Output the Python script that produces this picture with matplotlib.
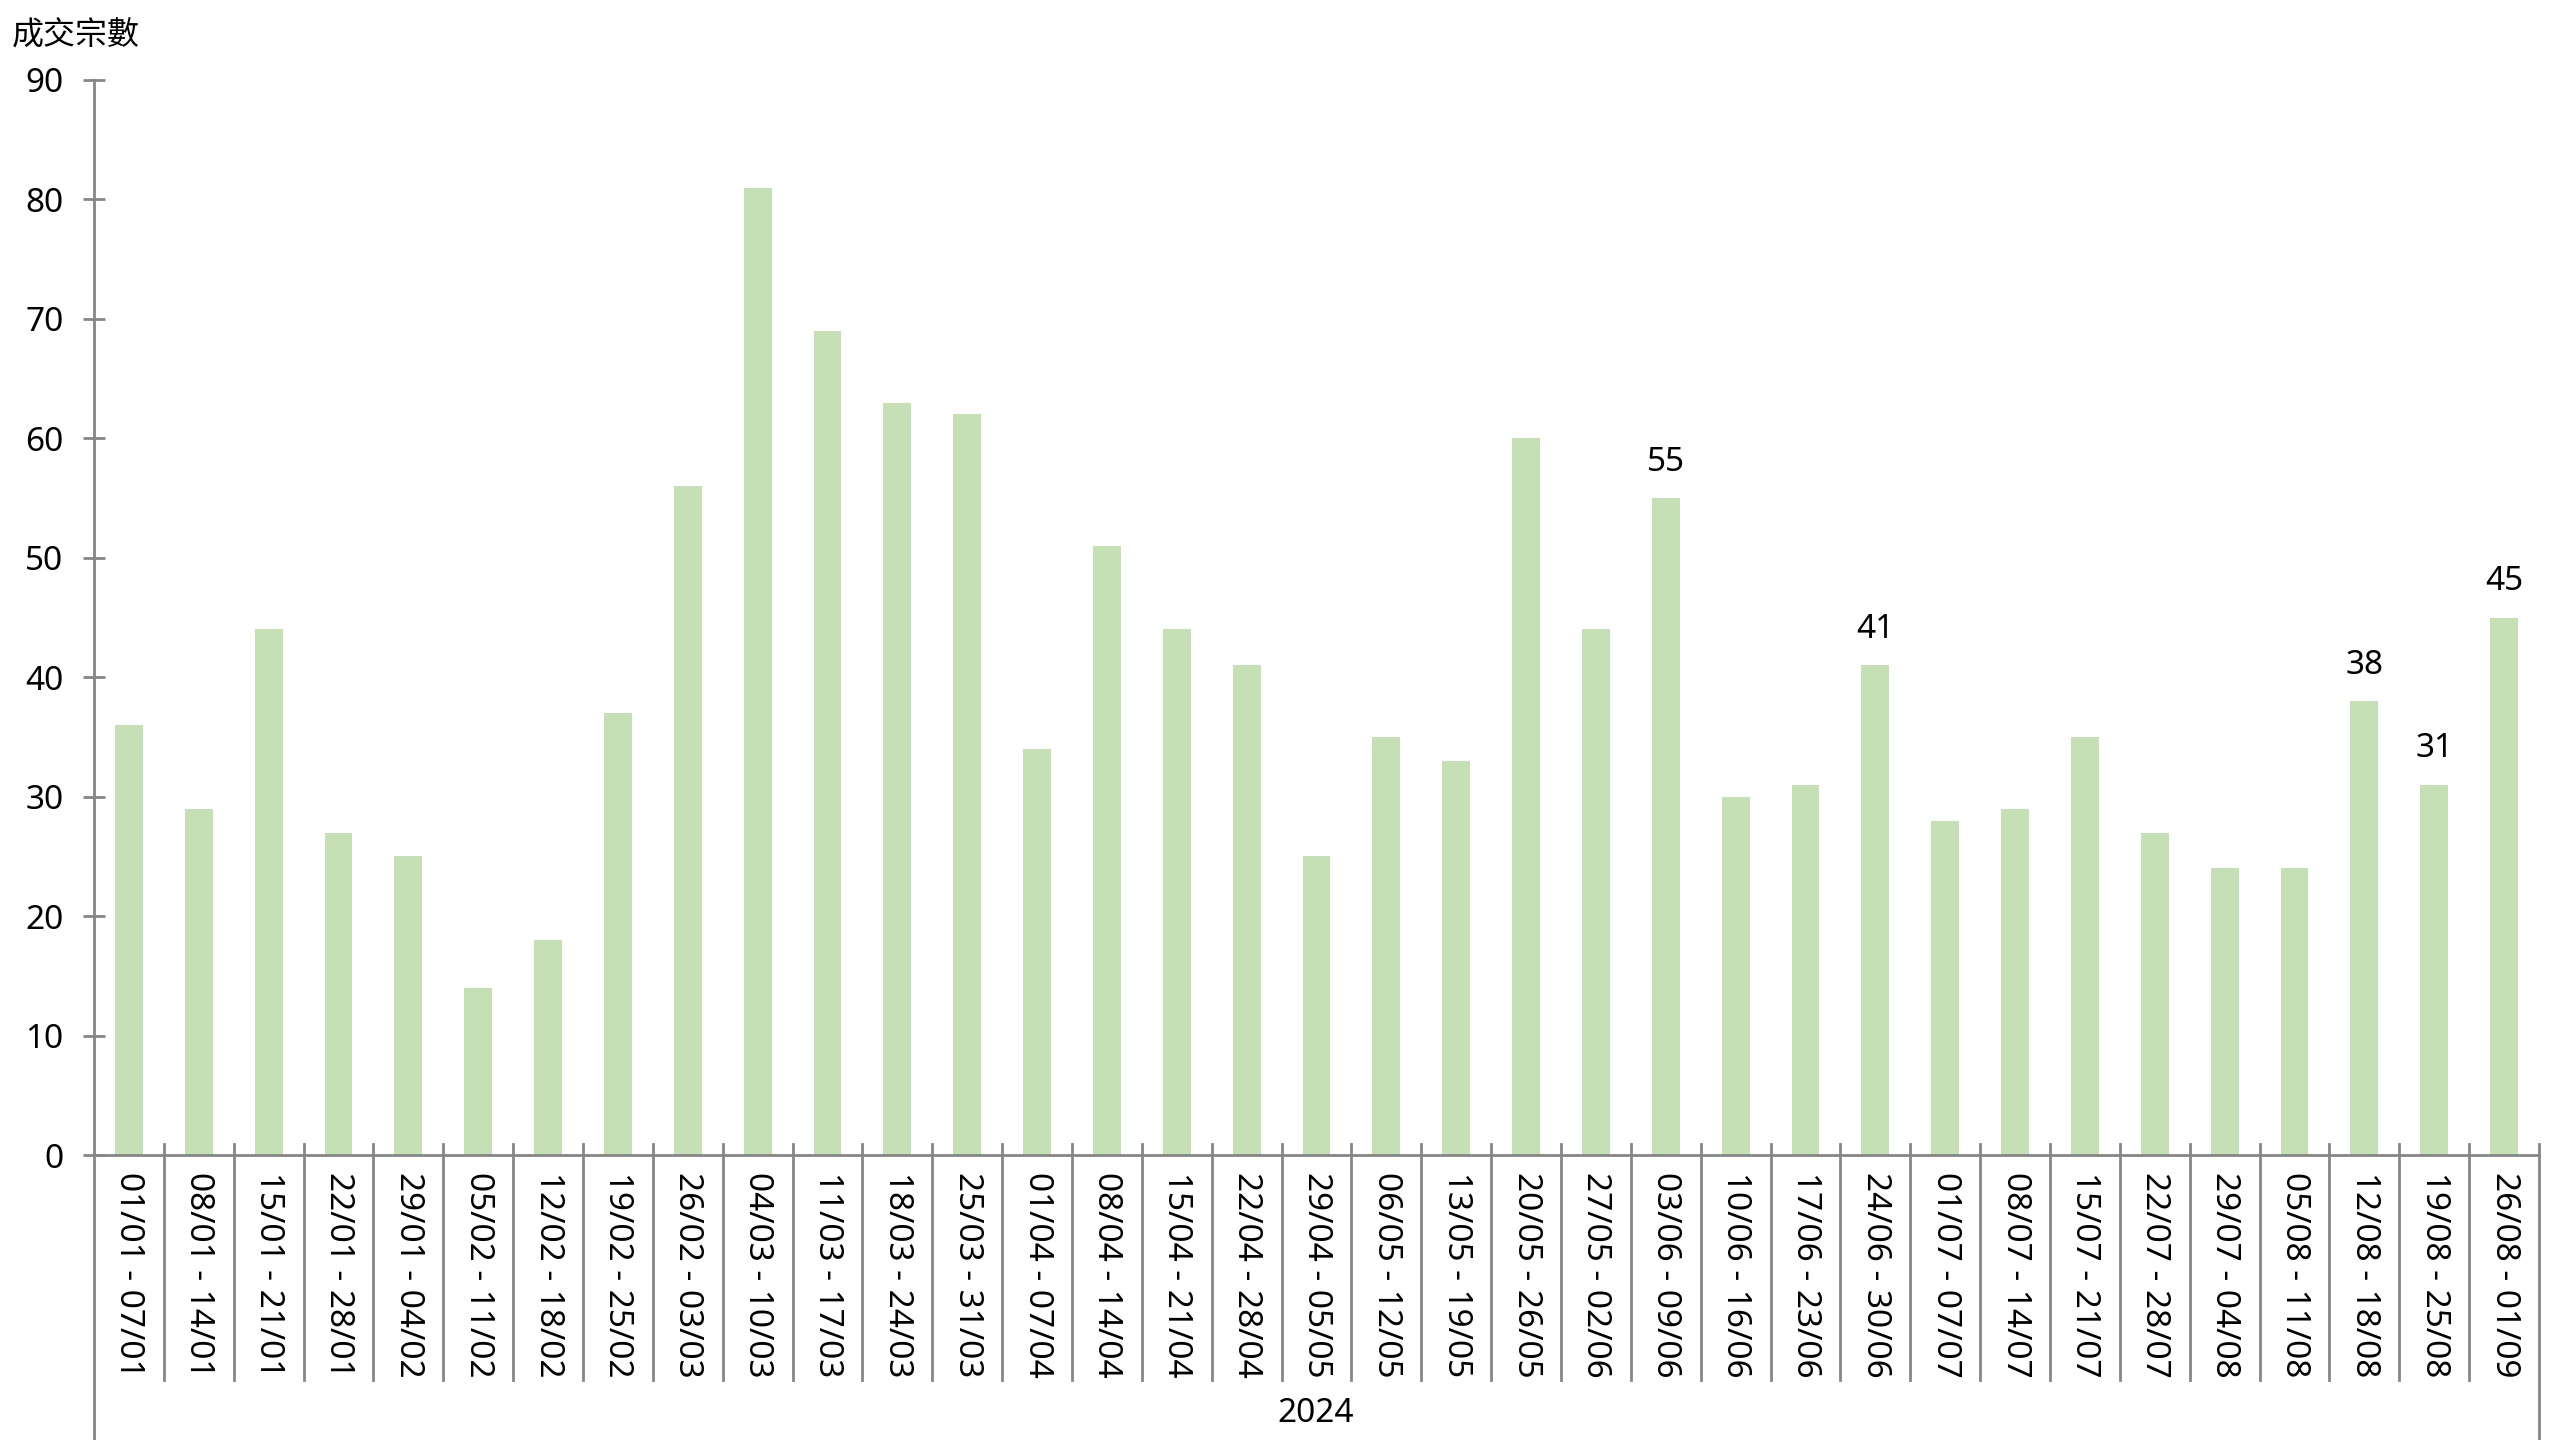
import matplotlib.pyplot as plt
import numpy as np

plt.rcParams['font.family'] = ['Noto Sans', 'Noto Sans CJK TC', 'DejaVu Sans']

weeks = ['01/01 - 07/01', '08/01 - 14/01', '15/01 - 21/01', '22/01 - 28/01',
         '29/01 - 04/02', '05/02 - 11/02', '12/02 - 18/02', '19/02 - 25/02',
         '26/02 - 03/03', '04/03 - 10/03', '11/03 - 17/03', '18/03 - 24/03',
         '25/03 - 31/03', '01/04 - 07/04', '08/04 - 14/04', '15/04 - 21/04',
         '22/04 - 28/04', '29/04 - 05/05', '06/05 - 12/05', '13/05 - 19/05',
         '20/05 - 26/05', '27/05 - 02/06', '03/06 - 09/06', '10/06 - 16/06',
         '17/06 - 23/06', '24/06 - 30/06', '01/07 - 07/07', '08/07 - 14/07',
         '15/07 - 21/07', '22/07 - 28/07', '29/07 - 04/08', '05/08 - 11/08',
         '12/08 - 18/08', '19/08 - 25/08', '26/08 - 01/09']
deals = [36, 29, 44, 27, 25, 14, 18, 37, 56, 81, 69, 63, 62, 34, 51, 44, 41, 25,
         35, 33, 60, 44, 55, 30, 31, 41, 28, 29, 35, 27, 24, 24, 38, 31, 45]
labelled = [22, 25, 32, 33, 34]   # bars that carry a value label
year = '2024'
ylabel = '成交宗數'

grey = '#868686'
fig = plt.figure(figsize=(25.6, 14.4), dpi=100)
ax = fig.add_axes([94/2560, 285/1440, (2539-94)/2560, 1075/1440])

x = np.arange(len(weeks))
bars = ax.bar(x, deals, width=0.4, color='#C5E0B4', zorder=2)
txt = [str(deals[i]) if i in labelled else '' for i in range(len(deals))]
ax.bar_label(bars, labels=txt, padding=14, fontsize=24)

ax.set_xlim(-0.5, len(weeks) - 0.5)
ax.set_ylim(0, 90)
ax.set_yticks(range(0, 91, 10))
ax.set_xticks(x)
ax.set_xticklabels(weeks, rotation=270, fontsize=24)
ax.tick_params(axis='x', length=0, pad=12)
ax.tick_params(axis='y', direction='inout', length=16, width=2, color=grey,
               labelsize=24, pad=14)

for s in ['top', 'right', 'left']:
    ax.spines[s].set_visible(False)
ax.spines['bottom'].set_color(grey)
ax.spines['bottom'].set_linewidth(2)

# group bracket lines below the axis
ax.axvline(-0.5, ymin=-0.27, ymax=1, color=grey, lw=2, clip_on=False)
ax.axvline(len(weeks) - 0.5, ymin=-0.27, ymax=0.0102, color=grey, lw=2, clip_on=False)
for i in range(1, len(weeks)):
    ax.axvline(i - 0.5, ymin=-0.209, ymax=0.0102, color=grey, lw=2, clip_on=False)

fig.text(1316/2560, 1 - 1414/1440, year, ha='center', va='center', fontsize=24)
fig.text(12/2560, 1 - 36/1440, ylabel, ha='left', va='center', fontsize=23)

fig.savefig('out.png', dpi=100)
